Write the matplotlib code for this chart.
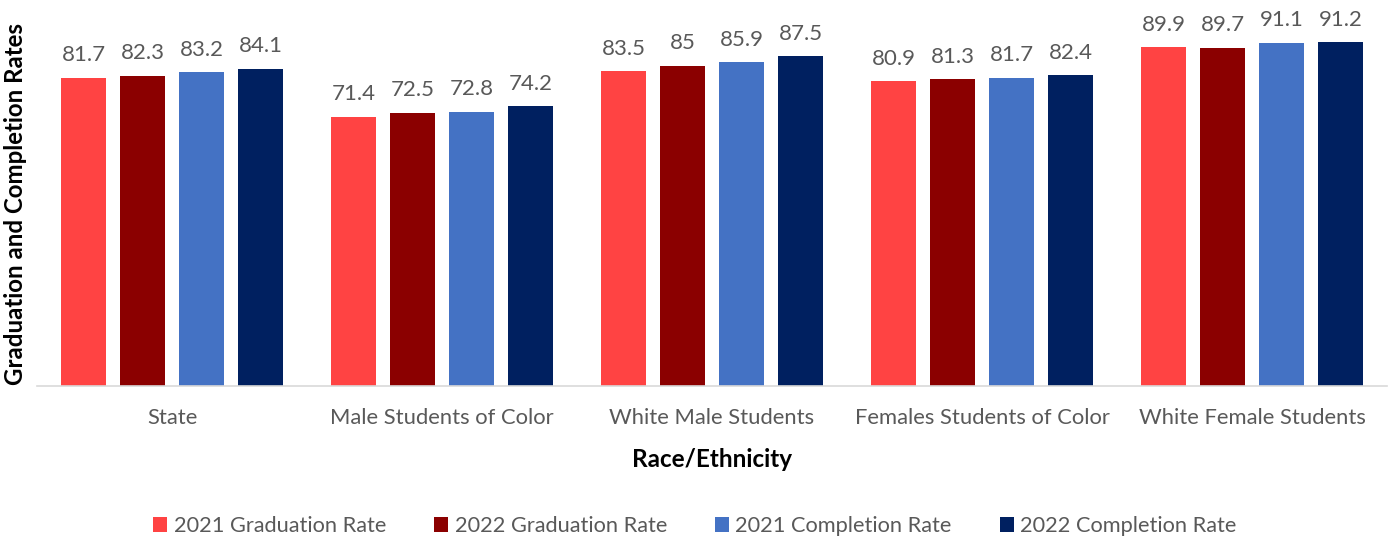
import matplotlib.pyplot as plt
import numpy as np

plt.rcParams['font.family'] = ['Lato', 'DejaVu Sans']

categories = ["State", "Male Students of Color", "White Male Students",
              "Females Students of Color", "White Female Students"]
series_names = ["2021 Graduation Rate", "2022 Graduation Rate",
                "2021 Completion Rate", "2022 Completion Rate"]
grad_2021 = [81.7, 71.4, 83.5, 80.9, 89.9]
grad_2022 = [82.3, 72.5, 85.0, 81.3, 89.7]
comp_2021 = [83.2, 72.8, 85.9, 81.7, 91.1]
comp_2022 = [84.1, 74.2, 87.5, 82.4, 91.2]
label_text = [
    ["81.7", "71.4", "83.5", "80.9", "89.9"],
    ["82.3", "72.5", "85", "81.3", "89.7"],
    ["83.2", "72.8", "85.9", "81.7", "91.1"],
    ["84.1", "74.2", "87.5", "82.4", "91.2"],
]
colors = ["#FF4343", "#8B0000", "#4472C4", "#002060"]
text_gray = "#595959"

fig = plt.figure(figsize=(13.91, 5.40), dpi=100)
ax = fig.add_axes([37 / 1391, 1 - 386 / 540, 1350 / 1391, 377 / 540])

x = np.arange(len(categories))
pitch = 0.2185
width = 0.17
all_series = [grad_2021, grad_2022, comp_2021, comp_2022]
handles = []
for i, vals in enumerate(all_series):
    pos = x + (i - 1.5) * pitch
    bars = ax.bar(pos, vals, width, color=colors[i], label=series_names[i])
    handles.append(bars)
    for b, txt in zip(bars, label_text[i]):
        ax.annotate(txt, (b.get_x() + b.get_width() / 2, b.get_height()),
                    xytext=(0, 9), textcoords='offset points',
                    ha='center', va='bottom', fontsize=16, color=text_gray)

ax.set_xlim(-0.5, len(categories) - 0.5)
ax.set_ylim(0, 100)
ax.set_yticks([])
ax.set_xticks(x)
ax.set_xticklabels(categories, fontsize=15.8, color=text_gray)
ax.tick_params(axis='x', length=0, pad=16)
for side in ['top', 'right', 'left']:
    ax.spines[side].set_visible(False)
ax.spines['bottom'].set_color('#D9D9D9')
ax.spines['bottom'].set_linewidth(1.2)

ax.set_xlabel("Race/Ethnicity", fontsize=17.5, fontweight='bold', labelpad=14)
fig.text(16 / 1391, 1 - 204 / 540, "Graduation and Completion Rates",
         rotation=90, ha='center', va='center', fontsize=17.3, fontweight='bold')

leg = fig.legend(handles=handles, labels=series_names, loc='center',
                 bbox_to_anchor=(695 / 1391, 1 - 526 / 540), ncol=4,
                 frameon=False, fontsize=15.7, handlelength=0.64,
                 handleheight=0.64, handletextpad=0.3, columnspacing=2.2)
for t in leg.get_texts():
    t.set_color(text_gray)

fig.savefig("out.png", dpi=100)
